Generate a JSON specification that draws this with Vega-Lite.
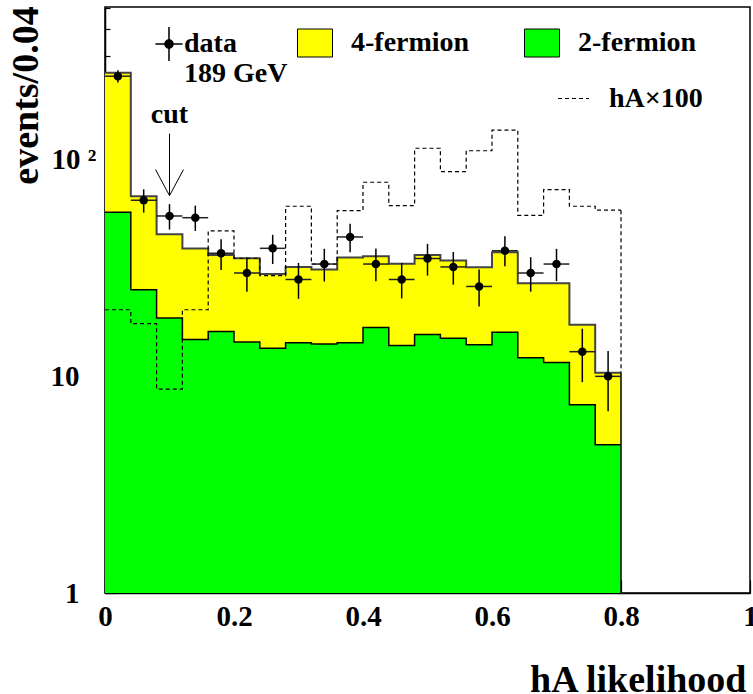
{
  "$schema": "https://vega.github.io/schema/vega-lite/v6.json",
  "width": 645,
  "height": 586,
  "autosize": "none",
  "padding": {"left": 105, "top": 7, "right": 3, "bottom": 101},
  "data": {
    "values": [
      {"lo": 0.00, "hi": 0.04, "mid": 0.02, "two": 57.2, "tot": 252, "hA": 20.3, "n": 243, "nlo": 227, "nhi": 259},
      {"lo": 0.04, "hi": 0.08, "mid": 0.06, "two": 25.1, "tot": 67.8, "hA": 17.5, "n": 65, "nlo": 57, "nhi": 73},
      {"lo": 0.08, "hi": 0.12, "mid": 0.10, "two": 18.6, "tot": 45.3, "hA": 8.74, "n": 55, "nlo": 47.6, "nhi": 62.4},
      {"lo": 0.12, "hi": 0.16, "mid": 0.14, "two": 14.8, "tot": 38.9, "hA": 20.3, "n": 54, "nlo": 46.9, "nhi": 61.4},
      {"lo": 0.16, "hi": 0.20, "mid": 0.18, "two": 16.1, "tot": 36.3, "hA": 46.9, "n": 37, "nlo": 31.0, "nhi": 43.0},
      {"lo": 0.20, "hi": 0.24, "mid": 0.22, "two": 14.4, "tot": 35.1, "hA": 35.1, "n": 30, "nlo": 24.6, "nhi": 35.4},
      {"lo": 0.24, "hi": 0.28, "mid": 0.26, "two": 13.5, "tot": 29.7, "hA": 29.2, "n": 39, "nlo": 33.0, "nhi": 45.0},
      {"lo": 0.28, "hi": 0.32, "mid": 0.30, "two": 14.3, "tot": 32.0, "hA": 61.0, "n": 28, "nlo": 22.8, "nhi": 33.4},
      {"lo": 0.32, "hi": 0.36, "mid": 0.34, "two": 14.1, "tot": 31.1, "hA": 33.0, "n": 33, "nlo": 27.4, "nhi": 38.8},
      {"lo": 0.36, "hi": 0.40, "mid": 0.38, "two": 14.3, "tot": 35.4, "hA": 58.2, "n": 44, "nlo": 37.4, "nhi": 50.6},
      {"lo": 0.40, "hi": 0.44, "mid": 0.42, "two": 16.8, "tot": 35.8, "hA": 78.7, "n": 33, "nlo": 27.5, "nhi": 38.9},
      {"lo": 0.44, "hi": 0.48, "mid": 0.46, "two": 13.9, "tot": 33.1, "hA": 61.4, "n": 28, "nlo": 22.9, "nhi": 33.4},
      {"lo": 0.48, "hi": 0.52, "mid": 0.50, "two": 15.6, "tot": 36.3, "hA": 113, "n": 35, "nlo": 29.2, "nhi": 40.9},
      {"lo": 0.52, "hi": 0.56, "mid": 0.54, "two": 15.0, "tot": 34.3, "hA": 88.1, "n": 32, "nlo": 26.5, "nhi": 37.5},
      {"lo": 0.56, "hi": 0.60, "mid": 0.58, "two": 14.0, "tot": 31.9, "hA": 110, "n": 26, "nlo": 21.0, "nhi": 31.1},
      {"lo": 0.60, "hi": 0.64, "mid": 0.62, "two": 16.0, "tot": 37.4, "hA": 137, "n": 38, "nlo": 32.2, "nhi": 44.3},
      {"lo": 0.64, "hi": 0.68, "mid": 0.66, "two": 12.2, "tot": 26.9, "hA": 55.4, "n": 30, "nlo": 24.6, "nhi": 35.5},
      {"lo": 0.68, "hi": 0.72, "mid": 0.70, "two": 11.6, "tot": 26.9, "hA": 72.8, "n": 33, "nlo": 27.5, "nhi": 38.8},
      {"lo": 0.72, "hi": 0.76, "mid": 0.74, "two": 7.40, "tot": 17.3, "hA": 61.0, "n": 13, "nlo": 9.4, "nhi": 16.6},
      {"lo": 0.76, "hi": 0.80, "mid": 0.78, "two": 4.84, "tot": 10.4, "hA": 58.5, "n": 10, "nlo": 6.9, "nhi": 13.1}
    ]
  },
  "layer": [
    {
      "transform": [{"fold": ["lo", "hi"], "as": ["edge", "xpos"]}],
      "mark": {"type": "area"},
      "encoding": {
        "x": {"field": "xpos", "type": "quantitative",
          "scale": {"domain": [0, 1], "nice": false, "zero": false},
          "axis": {
            "values": [0, 0.2, 0.4, 0.6, 0.8, 1],
            "labelExpr": "'' + datum.value",
            "title": "hA likelihood",
            "titleX": 641, "titleY": 98, "titleAlign": "right", "titleAnchor": "end", "titleBaseline": "alphabetic",
            "titleFontSize": 38,
            "tickSize": -13, "labelPadding": 45, "labelBaseline": "alphabetic", "labelFlush": false
          }
        },
        "y": {"field": "tot", "type": "quantitative",
          "scale": {"type": "log", "domain": [1, 507], "nice": false},
          "axis": {
            "values": [1, 2, 3, 4, 5, 6, 7, 8, 9, 10, 20, 30, 40, 50, 60, 70, 80, 90, 100, 200, 300, 400, 500],
            "labelExpr": "datum.value == 1 ? '1' : datum.value == 10 ? '10' : datum.value == 100 ? '10 ²' : ''",
            "tickSize": {"condition": {"test": "datum.value == 1 || datum.value == 10 || datum.value == 100", "value": -10}, "value": -5},
            "labelPadding": {"condition": {"test": "datum.value == 100", "value": 19}, "value": 36},
            "title": "events/0.04",
            "titleAngle": 270, "titleX": -68, "titleY": 88, "titleAlign": "center", "titleBaseline": "alphabetic",
            "titleFontSize": 38
          }
        },
        "y2": {"datum": 1},
        "order": [{"field": "xpos"}, {"field": "lo"}],
        "color": {"datum": "4-fermion", "type": "nominal",
          "scale": {"domain": ["4-fermion", "2-fermion"], "range": ["#ffff00", "#00ff00"]},
          "legend": {
            "orient": "none", "legendX": 192, "legendY": 18, "direction": "horizontal", "title": null,
            "symbolType": "M-1,-0.8H1V0.8H-1Z", "symbolSize": 1225, "labelOffset": 18, "columnPadding": 52,
            "symbolStrokeColor": "black", "symbolStrokeWidth": 1
          }
        }
      }
    },
    {
      "transform": [{"fold": ["lo", "hi"], "as": ["edge", "xpos"]}],
      "mark": {"type": "area"},
      "encoding": {
        "x": {"field": "xpos", "type": "quantitative"},
        "y": {"field": "two", "type": "quantitative"},
        "y2": {"datum": 1},
        "order": [{"field": "xpos"}, {"field": "lo"}],
        "color": {"datum": "2-fermion", "type": "nominal"}
      }
    },
    {
      "transform": [{"fold": ["lo", "hi"], "as": ["edge", "xpos"]}],
      "mark": {"type": "line", "color": "#444444", "strokeWidth": 2},
      "encoding": {
        "x": {"field": "xpos", "type": "quantitative"},
        "y": {"field": "tot", "type": "quantitative"},
        "order": [{"field": "xpos"}, {"field": "lo"}]
      }
    },
    {
      "transform": [{"fold": ["lo", "hi"], "as": ["edge", "xpos"]}],
      "mark": {"type": "line", "color": "black", "strokeWidth": 1.5},
      "encoding": {
        "x": {"field": "xpos", "type": "quantitative"},
        "y": {"field": "two", "type": "quantitative"},
        "order": [{"field": "xpos"}, {"field": "lo"}]
      }
    },
    {
      "transform": [{"filter": "datum.hi == 0.8"}],
      "mark": {"type": "rule", "color": "black", "strokeWidth": 1.5},
      "encoding": {
        "x": {"field": "hi", "type": "quantitative"},
        "y": {"field": "tot", "type": "quantitative"},
        "y2": {"datum": 1}
      }
    },
    {
      "transform": [{"fold": ["lo", "hi"], "as": ["edge", "xpos"]}],
      "mark": {"type": "line", "color": "black", "strokeWidth": 1.2},
      "encoding": {
        "x": {"field": "xpos", "type": "quantitative"},
        "y": {"field": "hA", "type": "quantitative"},
        "order": [{"field": "xpos"}, {"field": "lo"}],
        "strokeDash": {"datum": "hA×100", "type": "nominal",
          "scale": {"domain": ["hA×100"], "range": [[4, 3]]},
          "legend": {
            "orient": "none", "legendX": 452, "legendY": 75, "title": null,
            "symbolType": "stroke", "symbolSize": 961, "symbolStrokeColor": "black", "symbolStrokeWidth": 1.2,
            "labelOffset": 19
          }
        }
      }
    },
    {
      "transform": [{"filter": "datum.hi == 0.8"}],
      "mark": {"type": "rule", "color": "black", "strokeWidth": 1.2, "strokeDash": [4, 3]},
      "encoding": {
        "x": {"field": "hi", "type": "quantitative"},
        "y": {"field": "hA", "type": "quantitative"},
        "y2": {"field": "tot"}
      }
    },
    {
      "mark": {"type": "rule", "color": "black", "strokeWidth": 1.5},
      "encoding": {
        "x": {"field": "mid", "type": "quantitative"},
        "y": {"field": "nlo", "type": "quantitative"},
        "y2": {"field": "nhi"}
      }
    },
    {
      "mark": {"type": "rule", "color": "#222222", "strokeWidth": 1.5},
      "encoding": {
        "x": {"field": "lo", "type": "quantitative"},
        "x2": {"field": "hi"},
        "y": {"field": "n", "type": "quantitative"}
      }
    },
    {
      "mark": {"type": "point", "filled": true, "color": "black", "size": 72, "opacity": 1},
      "encoding": {
        "x": {"field": "mid", "type": "quantitative"},
        "y": {"field": "n", "type": "quantitative"}
      }
    },
    {
      "mark": {"type": "point", "filled": true, "color": "black", "size": 0, "opacity": 1},
      "encoding": {
        "x": {"field": "mid", "type": "quantitative"},
        "y": {"field": "n", "type": "quantitative"},
        "shape": {"datum": "data", "type": "nominal",
          "scale": {"domain": ["data"], "range": ["M-0.8,-0.045H0.8V0.045H-0.8Z M-0.045,-1H0.045V1H-0.045Z M0.28,0A0.28,0.28 0 1 1 -0.28,0A0.28,0.28 0 1 1 0.28,0Z"]},
          "legend": {
            "orient": "none", "legendX": 47, "legendY": 20, "title": null,
            "symbolSize": 1156, "labelOffset": -2, "symbolStrokeWidth": 0,
            "symbolFillColor": "black",
            "labelExpr": "['data', '189 GeV']", "labelBaseline": "middle"
          }
        }
      }
    },
    {
      "data": {"values": [{"cut": 0.1, "label": "cut"}]},
      "mark": {"type": "point", "filled": false, "color": "black", "strokeWidth": 1, "opacity": 1,
        "shape": "M0,-1V1M-0.45,0.16L0,1L0.45,0.16", "size": 3844},
      "encoding": {
        "x": {"field": "cut", "type": "quantitative"},
        "y": {"datum": 94.9}
      }
    },
    {
      "data": {"values": [{"cut": 0.1, "label": "cut"}]},
      "mark": {"type": "text", "fontSize": 28, "fontWeight": "bold", "baseline": "alphabetic", "align": "center"},
      "encoding": {
        "x": {"field": "cut", "type": "quantitative"},
        "y": {"datum": 148},
        "text": {"field": "label"}
      }
    }
  ],
  "config": {
    "font": "Liberation Serif",
    "view": {"stroke": "black", "strokeWidth": 1.5},
    "axis": {
      "grid": false, "zindex": 1,
      "domainColor": "black", "domainWidth": 1.5,
      "tickColor": "black", "tickWidth": 1.2,
      "labelFont": "Liberation Serif", "labelFontSize": 29, "labelFontWeight": "bold", "labelColor": "black",
      "titleFont": "Liberation Serif", "titleFontWeight": "bold", "titleColor": "black"
    },
    "legend": {
      "labelFont": "Liberation Serif", "labelFontSize": 28, "labelFontWeight": "bold", "labelColor": "black",
      "padding": 0
    },
    "text": {"font": "Liberation Serif"}
  }
}
